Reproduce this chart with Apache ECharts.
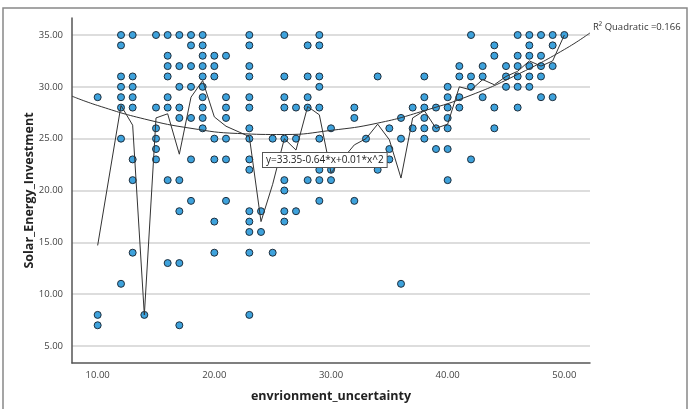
<!DOCTYPE html>
<html><head><meta charset="utf-8">
<script src="https://cdn.jsdelivr.net/npm/echarts@6/dist/echarts.min.js"></script>
<style>html,body{margin:0;padding:0;background:#fff}#c{width:696px;height:409px}</style>
</head><body><div id="c"></div>
<script>
const xValues = [10,12,13,14,15,16,17,18,19,20,21,23,24,25,26,27,28,29,30,32,33,34,35,36,37,38,39,40,41,42,43,44,45,46,47,48,49,50];
const yValuesByX = [
 [29,8,7],
 [35,34,31,30,29,28,25,11],
 [35,31,30,29,28,23,21,14],
 [8],
 [35,28,26,25,24,23],
 [35,33,32,31,29,28,21,13],
 [35,32,30,28,27,21,18,13,7],
 [35,34,32,30,27,23,19],
 [35,34,33,32,31,30,29,28,27,26],
 [33,32,31,25,23,17,14],
 [33,29,28,27,25,23,19],
 [35,34,32,31,29,28,26,25,23,22,18,17,16,14,8],
 [18,16],
 [25,23,14],
 [35,31,29,28,25,21,20,18,17],
 [28,25,23,18],
 [34,31,29,28,21],
 [35,34,31,30,28,25,22,21,19],
 [26,23,22,21],
 [28,27,23,19],
 [25,23],
 [31,23,22],
 [26,24,23],
 [27,25,11],
 [28,26],
 [31,29,28,27,26,25],
 [28,26,24],
 [30,29,28,27,26,24,21],
 [32,31,29,28],
 [35,31,30,23],
 [32,31,29],
 [34,33,28,26],
 [32,31,30],
 [35,33,32,31,30,28],
 [35,34,33,32,31,30],
 [35,33,32,31,29],
 [35,34,32,29],
 [35]
];
const meanY = [14.7,28.2,26.3,8,27.0,27.4,23.5,29.0,30.6,27.1,26.2,25.2,17.0,20.6,25.0,23.9,28.1,27.3,21.7,24.4,25.0,26.4,24.9,21.2,27.0,27.7,26.0,26.4,30.0,29.7,30.7,30.2,31.0,31.5,32.5,32.0,32.5,35.0];
const fitX = [7.8,10,14,18,22,26,30,34,38,42,46,50,52.2];
const fitY = [29.1,28.2,26.9,26.0,25.5,25.4,25.8,26.5,27.7,29.2,31.2,33.6,35.2];
const xTicks = [10,20,30,40,50];
const yTicks = [5,10,15,20,25,30,35];
const xTitle = 'envrionment_uncertainty';
const yTitle = 'Solar_Energy_Investment';
const equationText = 'y=33.35-0.64*x+0.01*x^2';
const r2Text = 'R\u00B2 Quadratic =0.166';

const scatterData = [];
xValues.forEach((x, i) => yValuesByX[i].forEach(y => scatterData.push([x, y])));
const meanData = xValues.map((x, i) => [x, meanY[i]]);
const fitData = fitX.map((x, i) => [x, fitY[i]]);

const chart = echarts.init(document.getElementById('c'), null, {renderer: 'canvas'});
const labelFont = {fontFamily: 'Open Sans', fontSize: 9.5, color: '#444'};
chart.setOption({
  animation: false,
  backgroundColor: '#fff',
  grid: {left: 72, top: 18, right: 106, bottom: 46, containLabel: false},
  xAxis: {
    type: 'value', min: 7.8, max: 52.2,
    axisLine: {show: true, lineStyle: {color: '#555', width: 1.5}},
    axisTick: {show: false, customValues: xTicks},
    splitLine: {show: false},
    axisLabel: Object.assign({customValues: xTicks, margin: 7, formatter: v => v.toFixed(2)}, labelFont),
    name: xTitle, nameLocation: 'middle', nameGap: 27, nameMoveOverlap: false,
    nameTextStyle: {fontFamily: 'Open Sans', fontWeight: 'bold', fontSize: 12.5, color: '#222'}
  },
  yAxis: {
    type: 'value', min: 3.36, max: 36.64,
    axisLine: {show: true, lineStyle: {color: '#555', width: 1.5}},
    axisTick: {show: false, customValues: yTicks},
    splitLine: {show: true, lineStyle: {color: '#d2d2d2', width: 1.5}},
    axisLabel: Object.assign({customValues: yTicks, margin: 9, formatter: v => v.toFixed(2)}, labelFont),
    name: yTitle, nameLocation: 'middle', nameGap: 36, nameRotate: 90, nameMoveOverlap: false,
    nameTextStyle: {fontFamily: 'Open Sans', fontWeight: 'bold', fontSize: 12.5, color: '#222'}
  },
  series: [
    {
      type: 'scatter', data: scatterData, symbolSize: 7, z: 2,
      itemStyle: {color: '#3ea2dc', borderColor: '#1e2e3c', borderWidth: 1, opacity: 1}
    },
    {
      type: 'line', data: meanData, symbol: 'none', z: 3,
      lineStyle: {color: '#333', width: 1}
    },
    {
      type: 'line', data: fitData, symbol: 'none', smooth: true, z: 3,
      lineStyle: {color: '#333', width: 1},
      endLabel: {show: true, formatter: r2Text, fontFamily: 'Open Sans', fontSize: 9.5, color: '#333', distance: 3, offset: [0, -6]}
    }
  ],
  graphic: [
    {type: 'rect', shape: {x: 3, y: 8, width: 684, height: 430}, style: {fill: 'none', stroke: '#888', lineWidth: 1.5}, silent: true},
    {type: 'text', left: 262, top: 152, z: 10,
     style: {text: equationText, fontFamily: 'Open Sans', fontSize: 10, fill: '#222', backgroundColor: '#fff', borderColor: '#555', borderWidth: 1, padding: [2, 3, 2, 3]}}
  ]
});
</script></body></html>
